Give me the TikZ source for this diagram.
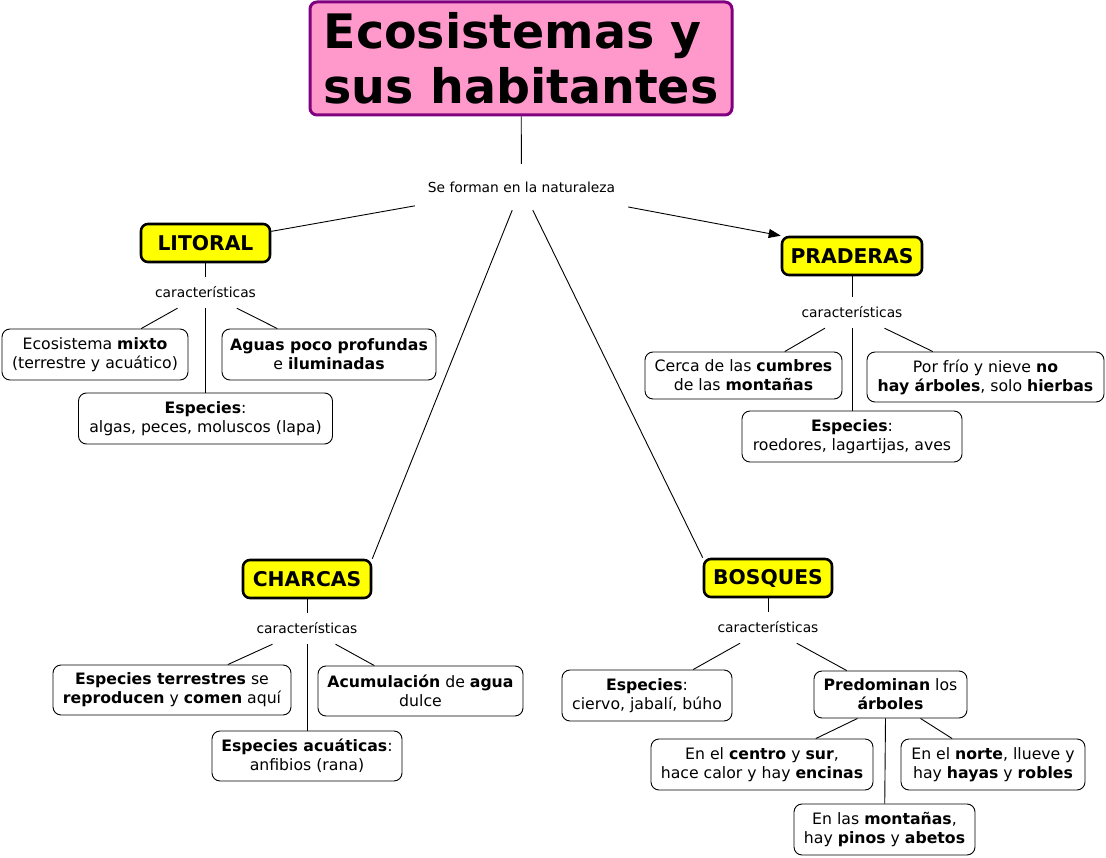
\documentclass[tikz,border=0pt]{standalone}
\usepackage{fontspec}
\setmainfont{DejaVu Sans}
\usetikzlibrary{arrows.meta,positioning}
\definecolor{titlepink}{HTML}{FF99CC}
\definecolor{titleedge}{HTML}{800080}
\definecolor{catyellow}{HTML}{FFFF00}
\tikzset{
  titlebox/.style={draw=titleedge,fill=titlepink,line width=3pt,rounded corners=7pt,
    align=left,inner sep=0pt,font=\fontsize{47.5}{55}\selectfont\bfseries},
  catbox/.style={draw,fill=catyellow,line width=2.6pt,rounded corners=7pt,inner sep=0pt,
    minimum height=38,font=\fontsize{20.3}{22}\selectfont\bfseries},
  infobox/.style={draw,line width=0.9pt,rounded corners=8pt,fill=white,align=center,
    inner sep=0pt,font=\fontsize{15.7}{19}\selectfont},
  linkword/.style={inner sep=0pt,minimum width=120,minimum height=31,
    font=\fontsize{13.8}{16}\selectfont},
  conn/.style={line width=0.9pt}
}

\begin{document}
\begin{tikzpicture}[x=1pt,y=-1pt]
\useasboundingbox (0,0) rectangle (1106,858);
\node[titlebox,minimum width=422,minimum height=113] (title) at (521,58.5) {Ecosistemas y\\sus habitantes};
\node[inner sep=0pt,minimum width=213,minimum height=46,font=\fontsize{13.8}{16}\selectfont] (forman) at (521.5,187) {Se forman en la naturaleza};

\node[catbox,minimum width=129] (litoral) at (205.5,243) {LITORAL};
\node[catbox,minimum width=140] (praderas) at (852,256) {PRADERAS};
\node[catbox,minimum width=128] (charcas) at (307,579) {CHARCAS};
\node[catbox,minimum width=128] (bosques) at (768,578) {BOSQUES};

\node[linkword] (lcar) at (205.5,292.5) {características};
\node[linkword] (pcar) at (852,312.5) {características};
\node[linkword] (ccar) at (307,628.5) {características};
\node[linkword] (bcar) at (768,627.5) {características};

\node[infobox,minimum width=186,minimum height=51] (lmix) at (95,354.5) {Ecosistema \textbf{mixto}\\(terrestre y acuático)};
\node[infobox,minimum width=214,minimum height=51] (lagu) at (329,354.5) {\textbf{Aguas poco profundas}\\e \textbf{iluminadas}};
\node[infobox,minimum width=254,minimum height=51] (lesp) at (205.5,418.5) {\textbf{Especies}:\\algas, peces, moluscos (lapa)};

\node[infobox,minimum width=197,minimum height=47] (pcum) at (743.5,375.5) {Cerca de las \textbf{cumbres}\\de las \textbf{montañas}};
\node[infobox,minimum width=237,minimum height=50] (pfri) at (985.5,377) {Por frío y nieve \textbf{no}\\\textbf{hay árboles}, solo \textbf{hierbas}};
\node[infobox,minimum width=220,minimum height=51] (pesp) at (852,436.5) {\textbf{Especies}:\\roedores, lagartijas, aves};

\node[infobox,minimum width=238,minimum height=50] (cter) at (172,690) {\textbf{Especies terrestres} se\\\textbf{reproducen} y \textbf{comen} aquí};
\node[infobox,minimum width=205,minimum height=50] (cacu) at (420.5,691) {\textbf{Acumulación} de \textbf{agua}\\dulce};
\node[infobox,minimum width=190,minimum height=50] (cesp) at (307,756) {\textbf{Especies acuáticas}:\\anfibios (rana)};

\node[infobox,minimum width=170,minimum height=51] (besp) at (647,695.5) {\textbf{Especies}:\\ciervo, jabalí, búho};
\node[infobox,minimum width=153,minimum height=47] (bpre) at (890.5,694.5) {\textbf{Predominan} los\\\textbf{árboles}};
\node[infobox,minimum width=222,minimum height=51] (bcen) at (762,764.5) {En el \textbf{centro} y \textbf{sur},\\hace calor y hay \textbf{encinas}};
\node[infobox,minimum width=184,minimum height=51] (bnor) at (993,764.5) {En el \textbf{norte}, llueve y\\hay \textbf{hayas} y \textbf{robles}};
\node[infobox,minimum width=181,minimum height=51] (bmon) at (884.5,829.5) {En las \textbf{montañas},\\hay \textbf{pinos} y \textbf{abetos}};

\draw[conn] (title) -- (forman);
\draw[conn] (forman) -- (litoral);
\draw[conn,-{Triangle[length=12pt,width=9pt]}] (forman) -- (praderas.north west);
\draw[conn] (forman) -- (charcas.north east);
\draw[conn] (forman) -- (bosques.north west);

\foreach \a/\b in {litoral/lcar,lcar/lmix,lcar/lagu,lcar/lesp,
                   praderas/pcar,pcar/pcum,pcar/pfri,pcar/pesp,
                   charcas/ccar,ccar/cter,ccar/cacu,ccar/cesp,
                   bosques/bcar,bcar/besp,bcar/bpre}
  \draw[conn] (\a) -- (\b);

\draw[conn] ([xshift=-33]bpre.south) -- (bcen);
\draw[conn] ([xshift=-5]bpre.south) -- (bmon);
\draw[conn] ([xshift=30]bpre.south) -- (bnor);
\end{tikzpicture}
\end{document}
